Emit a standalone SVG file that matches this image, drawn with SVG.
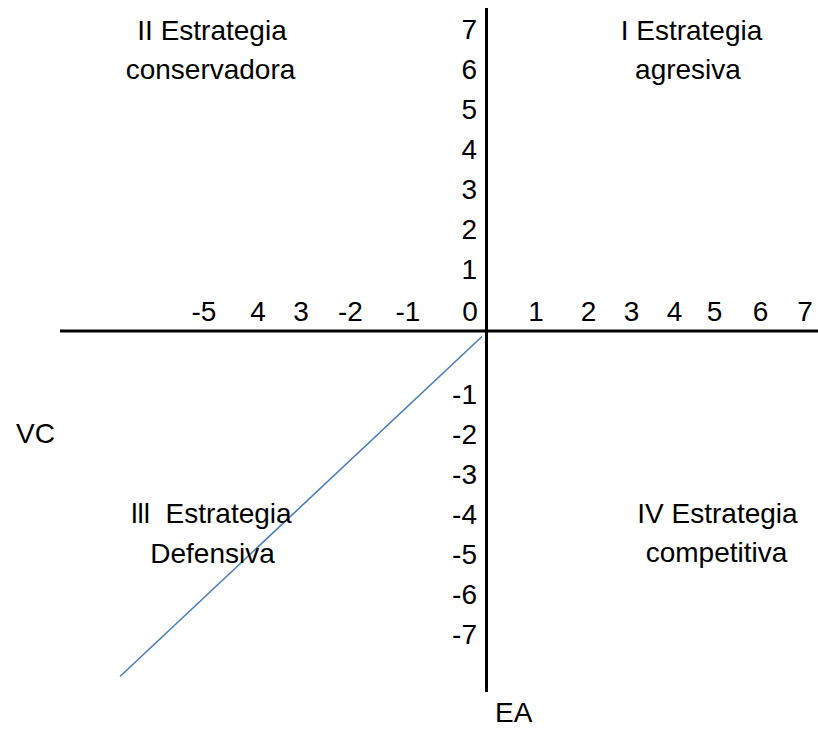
<svg xmlns="http://www.w3.org/2000/svg" width="818" height="729" viewBox="0 0 818 729">
<style>
text{font-family:"Liberation Sans",Arial,sans-serif;font-size:28px;fill:#000}
.m{text-anchor:middle}
.e{text-anchor:end}
.axis{stroke:#000;stroke-width:3;fill:none}
.trend{stroke:#4a7ebb;stroke-width:1.6;fill:none}
</style>
<rect width="818" height="729" fill="#fff"/>
<g id="connectors">
<line class="axis" x1="60" y1="331" x2="818" y2="331"/>
<line class="axis" x1="486.5" y1="8" x2="486.5" y2="692"/>
<line class="trend" x1="120" y1="676.5" x2="482" y2="336.5"/>
</g>
<g id="quadrant-II">
<text class="m" x="212" y="40">II Estrategia</text>
<text class="m" x="210.5" y="79">conservadora</text>
</g>
<g id="quadrant-I">
<text class="m" x="691.5" y="40">I Estrategia</text>
<text class="m" x="688" y="79">agresiva</text>
</g>
<g id="quadrant-III">
<text class="m" x="211.5" y="523" xml:space="preserve">lll  Estrategia</text>
<text class="m" x="212.5" y="563">Defensiva</text>
</g>
<g id="quadrant-IV">
<text class="m" x="717.5" y="523">IV Estrategia</text>
<text class="m" x="716.5" y="562">competitiva</text>
</g>
<g id="y-labels">
<text class="e" x="477" y="38.5">7</text>
<text class="e" x="477" y="78.6">6</text>
<text class="e" x="477" y="118.7">5</text>
<text class="e" x="477" y="158.8">4</text>
<text class="e" x="477" y="198.9">3</text>
<text class="e" x="477" y="239">2</text>
<text class="e" x="477" y="279">1</text>
<text class="e" x="477" y="404">-1</text>
<text class="e" x="477" y="444">-2</text>
<text class="e" x="477" y="484">-3</text>
<text class="e" x="477" y="524">-4</text>
<text class="e" x="477" y="564">-5</text>
<text class="e" x="477" y="604">-6</text>
<text class="e" x="477" y="644">-7</text>
</g>
<g id="x-labels">
<text class="m" x="204" y="321">-5</text>
<text class="m" x="258" y="321">4</text>
<text class="m" x="301" y="321">3</text>
<text class="m" x="350.5" y="321">-2</text>
<text class="m" x="408" y="321">-1</text>
<text class="m" x="470" y="321">0</text>
<text class="m" x="536" y="321">1</text>
<text class="m" x="588.5" y="321">2</text>
<text class="m" x="631.5" y="321">3</text>
<text class="m" x="674.5" y="321">4</text>
<text class="m" x="714.5" y="321">5</text>
<text class="m" x="760.5" y="321">6</text>
<text class="m" x="805" y="321">7</text>
</g>
<g id="axis-titles">
<text x="16" y="443">VC</text>
<text x="495" y="722">EA</text>
</g>
</svg>
